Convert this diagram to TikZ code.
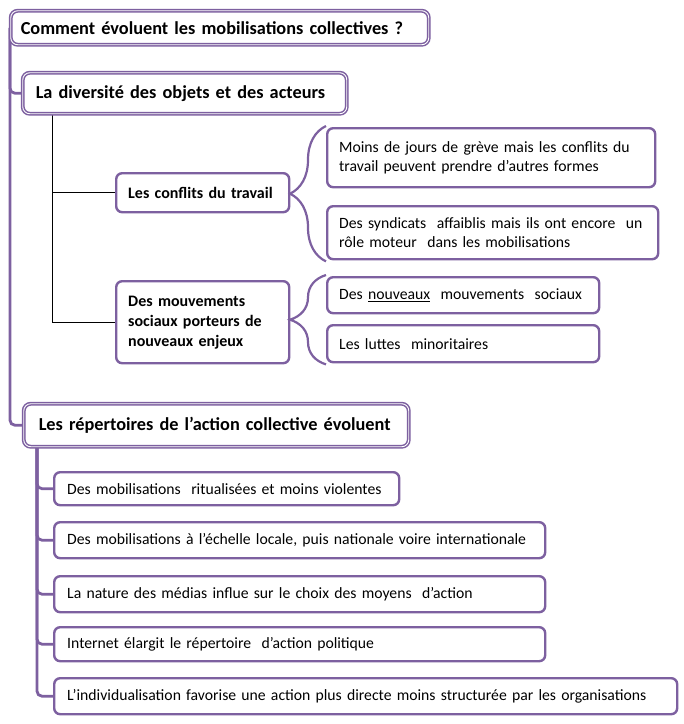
\documentclass[tikz,border=0pt]{standalone}
\usepackage{fontspec}
\setmainfont{Carlito}
\usetikzlibrary{decorations.pathreplacing}
\definecolor{pcol}{RGB}{125,96,160}
\pgfdeclarelayer{bg}
\pgfsetlayers{bg,main}
\begin{document}
\begin{tikzpicture}[x=1pt,y=-1pt,
  box/.style={draw=pcol, line width=2.4pt, rounded corners=6pt, fill=white, anchor=north west, align=left, inner ysep=0pt, inner xsep=12pt, font=\fontsize{15.7}{19.5}\selectfont},
  head/.style={draw=pcol, line width=1.5pt, double=white, double distance=0.9pt, rounded corners=7pt, fill=white, anchor=north west, align=left, inner ysep=0pt, font=\bfseries\fontsize{18.3}{21}\selectfont},
  sub/.style={box, font=\bfseries\fontsize{16}{20}\selectfont},
  trunk/.style={draw=pcol, line width=2.8pt, rounded corners=5pt},
  thinline/.style={draw=black, line width=0.8pt},
  brc/.style={draw=pcol, line width=2.2pt, decorate, decoration={brace, amplitude=36pt}}
]
\useasboundingbox (0,0) rectangle (684,724);
% headings
\node[head, minimum width=418pt, minimum height=34pt, text width=398pt, inner xsep=10pt] (title) at (10,10) {Comment évoluent les mobilisations collectives ?};
\node[head, minimum width=324pt, minimum height=41pt, text width=298pt, inner xsep=13pt] (div) at (22,72) {La diversité des objets et des acteurs};
\node[head, minimum width=385pt, minimum height=43pt, text width=355pt, inner xsep=15pt] (rep) at (23,403) {Les répertoires de l’action collective évoluent};
% sub-headings
\node[sub, minimum width=173pt, minimum height=39pt, text width=149pt] (conf) at (115,172) {Les conflits du travail};
\node[sub, minimum width=173pt, minimum height=82pt, text width=149pt] (mouv) at (115,280) {Des mouvements\\ sociaux porteurs de\\ nouveaux enjeux};
% leaves of conflicts
\node[box, minimum width=328pt, minimum height=59pt, text width=304pt] (m1) at (326,127) {Moins de jours de grève mais les conflits du\\ travail peuvent prendre d’autres formes};
\node[box, minimum width=331pt, minimum height=53pt, text width=307pt] (m2) at (326,205) {Des syndicats\ \ affaiblis mais ils ont encore\ \ un\\ rôle moteur\ \ dans les mobilisations};
\node[box, minimum width=272pt, minimum height=36pt, text width=248pt] (n1) at (326,276) {Des \underline{nouveaux}\ \ mouvements\ \ sociaux};
\node[box, minimum width=272pt, minimum height=37pt, text width=248pt] (n2) at (326,324) {Les luttes\ \ minoritaires};
% repertoire items
\node[box, inner xsep=13pt, minimum width=345pt, minimum height=33pt, text width=319pt] (r1) at (53,471) {\mbox{Des mobilisations\ \ ritualisées et moins violentes}};
\node[box, inner xsep=13pt, minimum width=491pt, minimum height=36pt, text width=465pt] (r2) at (53,521) {\mbox{Des mobilisations à l’échelle locale, puis nationale voire internationale}};
\node[box, inner xsep=13pt, minimum width=491pt, minimum height=36pt, text width=465pt] (r3) at (53,575) {\mbox{La nature des médias influe sur le choix des moyens\ \ d’action}};
\node[box, inner xsep=13pt, minimum width=491pt, minimum height=34pt, text width=465pt] (r4) at (53,626) {\mbox{Internet élargit le répertoire\ \ d’action politique}};
\node[box, inner xsep=13pt, minimum width=623pt, minimum height=36pt, text width=597pt] (r5) at (53,677) {\mbox{L’individualisation favorise une action plus directe moins structurée par les organisations}};
% connectors
\begin{pgfonlayer}{bg}
\draw[trunk] (title.west) |- (div.west);
\draw[trunk] (title.west) |- (rep.west);
\draw[trunk] ([xshift=14pt]rep.west) |- (r1.west);
\draw[trunk] ([xshift=14pt]rep.west) |- (r2.west);
\draw[trunk] ([xshift=14pt]rep.west) |- (r3.west);
\draw[trunk] ([xshift=14pt]rep.west) |- (r4.west);
\draw[trunk] ([xshift=14pt]rep.west) |- (r5.west);
\draw[thinline] ([xshift=30pt]div.west) |- (conf.west);
\draw[thinline] ([xshift=30pt]div.west) |- (mouv.west);
\end{pgfonlayer}
\draw[brc] ([yshift=-1pt]m2.south west) -- ([yshift=1pt]m1.north west);
\draw[brc] ([yshift=-1pt]n2.south west) -- ([yshift=1pt]n1.north west);
\end{tikzpicture}
\end{document}
